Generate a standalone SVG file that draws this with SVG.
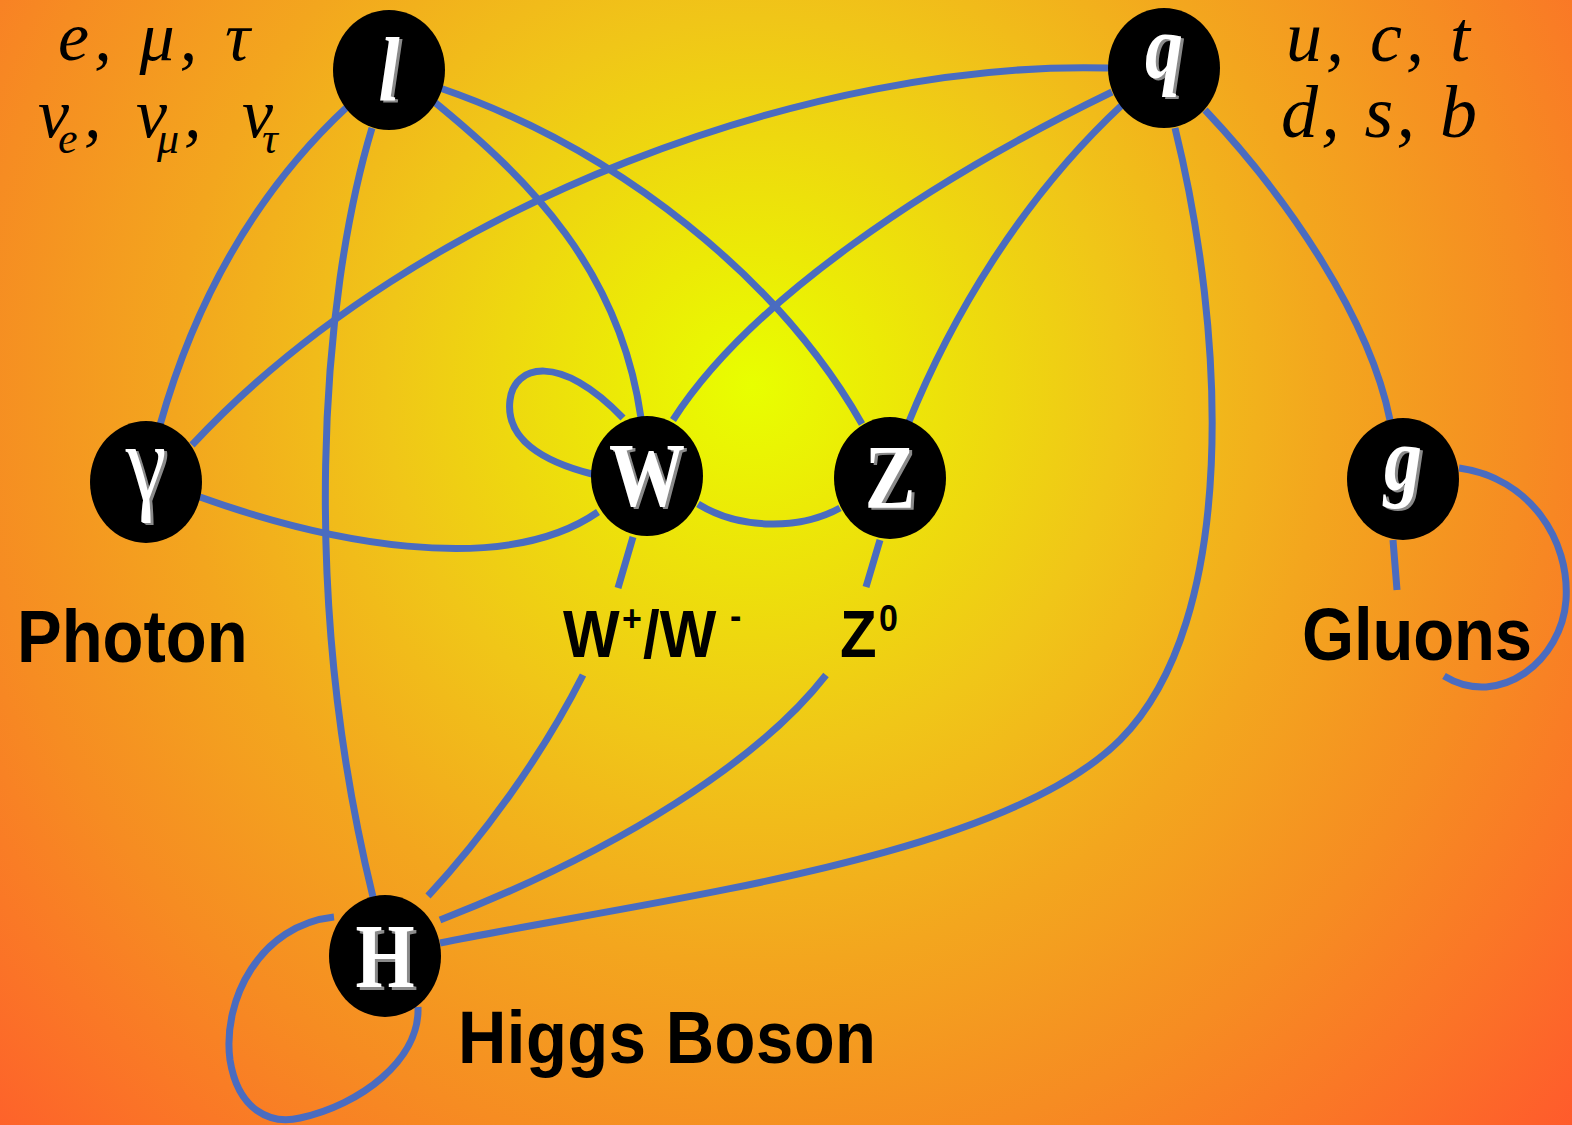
<svg xmlns="http://www.w3.org/2000/svg" width="1572" height="1125" viewBox="0 0 1572 1125">
<defs>
<radialGradient id="bg" gradientUnits="userSpaceOnUse" cx="752" cy="385" r="1110">
<stop offset="0" stop-color="#e8ff00"/>
<stop offset="0.12" stop-color="#ecea06"/>
<stop offset="0.33" stop-color="#f0c618"/>
<stop offset="0.52" stop-color="#f3a61e"/>
<stop offset="0.7" stop-color="#f68c22"/>
<stop offset="0.82" stop-color="#fa7826"/>
<stop offset="1" stop-color="#ff5a2c"/>
</radialGradient>
<style>
.e{fill:none;stroke:#4a6cc0;stroke-width:7;stroke-linecap:butt}
.n{fill:#000}
.lt{font-family:"Liberation Serif",serif;font-weight:bold;font-size:76px;text-anchor:middle}
.it{font-style:italic}
.sh{fill:#8a8a8a}
.fg{fill:#fff}
.lab{font-family:"Liberation Sans",Arial,sans-serif;font-weight:bold;font-size:67px;fill:#000}
.gr{font-family:"Liberation Serif",serif;font-style:italic;font-size:70px;fill:#000}
</style>
</defs>
<rect width="1572" height="1125" fill="url(#bg)"/>
<g id="connectors">
<path class="e" d="M347,107 Q215,230 160,425"/>
<path class="e" d="M372,128 C320,300 300,600 373,897"/>
<path class="e" d="M432,100 C530,180 620,270 641,418"/>
<path class="e" d="M440,88 C620,150 780,280 862,424"/>
<path class="e" d="M1108,68 C820,60 420,200 192,445"/>
<path class="e" d="M1112,92 C930,180 750,300 673,420"/>
<path class="e" d="M1122,105 C1020,200 950,320 908,424"/>
<path class="e" d="M1175,128 C1225,330 1240,620 1120,740 S650,900 440,943"/>
<path class="e" d="M1205,110 C1290,200 1370,320 1390,420"/>
<path class="e" d="M200,497 C320,540 500,580 598,512"/>
<path class="e" d="M592,474 C545,462 505,440 510,400 C514,365 560,352 623,418"/>
<path class="e" d="M698,504 C740,530 800,530 840,508"/>
<path class="e" d="M633,537 L618,588 M583,675 C540,760 480,840 428,896"/>
<path class="e" d="M880,540 L866,587 M826,675 C760,760 620,850 440,920"/>
<path class="e" d="M1459,468 C1530,478 1570,540 1566,600 C1562,660 1500,710 1444,676 M1397,590 L1393,540"/>
<path class="e" d="M334,917 C260,925 222,1000 230,1060 C238,1110 270,1125 300,1118 C360,1105 420,1060 418,1007"/>
</g>
<g id="node-l">
<ellipse class="n" cx="389" cy="70" rx="56" ry="60"/>
<g transform="translate(389,70) scale(1,1.2)"><text class="lt it sh" x="3" y="27">l</text><text class="lt it fg" x="0" y="25">l</text></g>
</g>
<g id="node-q">
<ellipse class="n" cx="1164" cy="68" rx="56" ry="60"/>
<g transform="translate(1164,68) scale(1,1.2)"><text class="lt it sh" x="3" y="10">q</text><text class="lt it fg" x="0" y="8">q</text></g>
</g>
<g id="node-gamma">
<ellipse class="n" cx="146" cy="482" rx="56" ry="61"/>
<g transform="translate(146,482) scale(1,1.2)"><text class="lt sh" style="font-size:92px;font-weight:normal" x="3" y="17">γ</text><text class="lt fg" style="font-size:92px;font-weight:normal" x="0" y="15">γ</text></g>
</g>
<g id="node-W">
<ellipse class="n" cx="647" cy="476" rx="56" ry="60"/>
<g transform="translate(647,476) scale(1,1.2)"><text class="lt sh" x="3" y="27">W</text><text class="lt fg" x="0" y="25">W</text></g>
</g>
<g id="node-Z">
<ellipse class="n" cx="890" cy="478" rx="56" ry="61"/>
<g transform="translate(890,478) scale(1,1.2)"><text class="lt sh" x="3" y="27">Z</text><text class="lt fg" x="0" y="25">Z</text></g>
</g>
<g id="node-g">
<ellipse class="n" cx="1403" cy="479" rx="56" ry="61"/>
<g transform="translate(1403,479) scale(1,1.2)"><text class="lt it sh" x="3" y="11">g</text><text class="lt it fg" x="0" y="9">g</text></g>
</g>
<g id="node-H">
<ellipse class="n" cx="385" cy="956" rx="56" ry="61"/>
<g transform="translate(385,956) scale(1,1.2)"><text class="lt sh" x="3" y="28">H</text><text class="lt fg" x="0" y="26">H</text></g>
</g>
<g id="labels">
<text class="lab" transform="translate(17,662) scale(1,1.1)">Photon</text>
<g transform="translate(0,657) scale(1,1.1)">
<text class="lab" style="font-size:60px"><tspan x="563" y="0">W</tspan><tspan x="622" y="-24" style="font-size:34px">+</tspan><tspan x="643" y="0">/W</tspan><tspan x="730" y="-26" style="font-size:34px">-</tspan></text>
<text class="lab" style="font-size:60px"><tspan x="840" y="0">Z</tspan><tspan x="879" y="-24" style="font-size:34px">0</tspan></text>
</g>
<text class="lab" transform="translate(1302,660) scale(1,1.1)" textLength="230">Gluons</text>
<text class="lab" transform="translate(458,1063) scale(1,1.1)" textLength="418">Higgs Boson</text>
<text class="gr" x="58" y="60" textLength="192">e, μ, τ</text>
<text class="gr"><tspan x="38" y="137">ν</tspan><tspan x="58" y="153" style="font-size:44px">e</tspan><tspan x="84" y="137">,</tspan><tspan x="136" y="137">ν</tspan><tspan x="157" y="153" style="font-size:44px">μ</tspan><tspan x="184" y="137">,</tspan><tspan x="242" y="137">ν</tspan><tspan x="262" y="153" style="font-size:44px">τ</tspan></text>
<text class="gr" style="font-size:72px" x="1286" y="61" textLength="184">u, c, t</text>
<text class="gr" style="font-size:74px" x="1281" y="137" textLength="196">d, s, b</text>
</g>
</svg>
